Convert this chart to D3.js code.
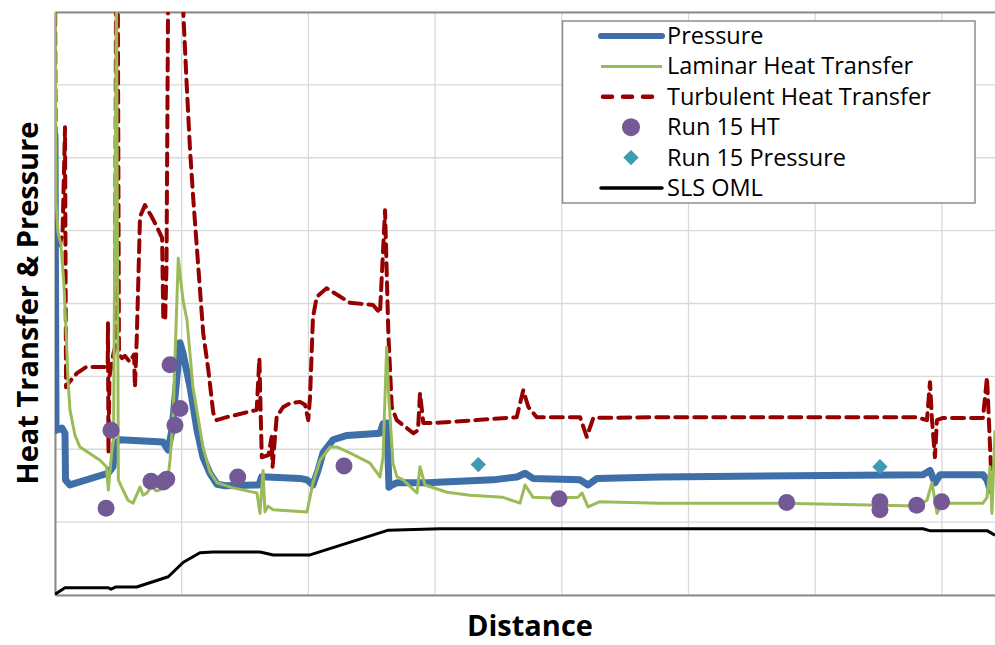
<!DOCTYPE html>
<html>
<head>
<meta charset="utf-8">
<title>Heat Transfer & Pressure</title>
<script src="https://d3js.org/d3.v7.min.js"></script>
<style>
  body { margin: 0; background: #fff; }
  svg { display: block; font-family: "Open Sans", Lato, sans-serif; }
  .grid line { stroke: #d9d9d9; stroke-width: 1.3; }
</style>
</head>
<body>
<svg id="chart" width="995" height="645"></svg>
<script>
// series, [distance, value]
const pressure = [[0,6.31],[0.08,2.26],[0.55,2.29],[0.79,2.22],[0.83,1.58],[1.18,1.51],[3.79,1.65],[4.18,1.67],[4.58,1.76],[4.74,2.09],[5.13,2.13],[8.52,2.10],[8.92,1.99],[9.23,2.26],[9.87,3.46],[10.10,3.32],[10.66,2.85],[11.21,2.26],[11.68,1.89],[12.23,1.67],[12.79,1.52],[13.42,1.50],[16.10,1.51],[16.30,1.62],[16.73,1.62],[19.34,1.60],[19.89,1.58],[20.36,1.51],[20.76,1.71],[21.15,1.95],[21.94,2.13],[23.05,2.19],[25.65,2.22],[25.89,2.35],[26.20,2.36],[26.36,1.48],[26.60,1.51],[26.99,1.54],[29.36,1.54],[34.57,1.58],[36.46,1.62],[37.10,1.67],[37.73,1.60],[41.44,1.58],[42.07,1.51],[42.78,1.60],[47.75,1.62],[68.51,1.65],[69.06,1.71],[69.45,1.54],[69.85,1.65],[73.24,1.65],[73.56,1.58],[73.80,1.44]];

const laminar = [[0,8.5],[0.08,5.42],[0.24,4.98],[0.47,4.80],[0.71,4.25],[0.87,3.64],[1.03,2.95],[1.18,2.54],[1.58,2.19],[1.97,2.03],[3.55,1.85],[4.06,1.76],[4.21,1.44],[4.47,1.95],[4.62,2.13],[4.85,8.5],[5.00,1.58],[5.26,1.48],[5.76,1.30],[6.16,1.26],[6.71,1.48],[6.95,1.37],[7.26,1.40],[7.50,1.47],[7.73,1.48],[7.97,1.43],[8.29,1.44],[8.76,1.58],[8.92,1.62],[9.08,1.85],[9.31,2.40],[9.73,4.62],[10.10,4.05],[10.42,3.77],[10.89,2.85],[11.68,2.03],[12.23,1.69],[12.79,1.54],[14.05,1.47],[15.94,1.40],[16.18,1.12],[16.42,1.71],[16.57,1.14],[16.81,1.22],[17.21,1.17],[19.89,1.14],[20.36,1.54],[20.92,1.85],[21.70,2.03],[22.26,2.03],[23.28,1.95],[24.86,1.81],[25.65,1.62],[25.89,1.89],[26.18,3.40],[26.36,2.67],[26.68,1.81],[26.99,1.62],[27.47,1.58],[28.57,1.40],[28.81,1.76],[29.20,1.51],[30.94,1.41],[32.75,1.37],[35.36,1.34],[36.70,1.26],[37.10,1.51],[37.73,1.34],[39.31,1.33],[41.28,1.34],[41.59,1.40],[42.07,1.21],[43.01,1.28],[47.75,1.26],[57.46,1.26],[68.03,1.22],[68.82,1.30],[69.22,1.54],[69.61,1.12],[70.01,1.26],[73.24,1.26],[73.56,1.34],[73.80,1.76],[73.95,1.12],[74.19,2.26]];

const turbulent = [[0,8.5],[0.08,5.0],[0.39,4.8],[0.6,5.0],[0.79,6.42],[0.87,2.85],[1.03,2.9],[1.71,3.04],[2.48,3.13],[3.55,3.13],[4.16,3.13],[4.18,3.73],[4.22,1.95],[4.3,3.0],[4.6,3.3],[4.74,3.4],[4.82,8.6],[4.95,8.6],[5.05,3.3],[5.29,3.25],[5.52,3.28],[5.9,3.2],[6.24,3.3],[6.31,2.85],[6.45,3.5],[6.71,5.19],[7.10,5.35],[7.6,5.2],[8.05,5.05],[8.45,4.9],[8.55,3.77],[8.7,3.8],[8.8,4.5],[8.94,8.6],[10.05,8.6],[10.13,7.98],[10.39,7.02],[10.66,6.10],[10.92,5.42],[11.31,4.50],[11.70,3.59],[12.10,3.09],[12.49,2.50],[12.76,2.40],[13.55,2.44],[15.92,2.54],[16.13,3.25],[16.32,1.89],[16.84,1.92],[17.10,2.17],[17.17,1.76],[17.50,2.45],[18.02,2.58],[18.55,2.63],[19.34,2.65],[19.73,2.61],[19.99,2.40],[20.13,2.72],[20.36,3.81],[20.66,4.09],[21.44,4.21],[23.28,4.01],[25.10,3.98],[25.65,3.87],[26.05,5.28],[26.31,3.59],[26.58,2.58],[26.97,2.40],[28.28,2.22],[28.65,2.26],[28.81,2.77],[29.07,2.36],[29.83,2.36],[33.28,2.40],[36.44,2.44],[36.96,2.81],[37.36,2.58],[38.02,2.44],[41.44,2.44],[41.97,2.17],[42.49,2.43],[47.75,2.44],[68.01,2.44],[68.82,2.40],[69.06,2.92],[69.22,2.40],[69.45,1.89],[69.61,2.40],[70.09,2.43],[73.24,2.43],[73.56,2.99],[73.95,1.44],[74.19,1.41]];

const run15HT = [[4.03,1.19],[4.42,2.26],[7.58,1.56],[8.56,1.55],[8.82,1.59],[9.08,3.16],[9.87,2.56],[9.47,2.33],[14.42,1.62],[22.81,1.77],[39.78,1.32],[57.75,1.27],[65.11,1.28],[65.11,1.17],[68.01,1.23],[69.98,1.28]];

const run15Pressure = [[33.41,1.79],[65.11,1.76]];

const slsOML = [[0,0.01],[0.79,0.10],[4.21,0.10],[4.42,0.08],[4.81,0.11],[6.45,0.11],[8.94,0.25],[10.13,0.45],[11.44,0.58],[12.49,0.59],[16.18,0.59],[17.23,0.55],[20.13,0.55],[26.31,0.89],[30.39,0.91],[68.5,0.91],[69.1,0.88],[73.6,0.88],[74.19,0.82]];

const legendNames = ["Pressure","Laminar Heat Transfer","Turbulent Heat Transfer","Run 15 HT","Run 15 Pressure","SLS OML"];

const xTicks = d3.range(0, 90, 10);
const yTicks = d3.range(0, 9, 1);

// layout
const plotLeft = 55, plotTop = 12, plotBottom = 595;
const svg = d3.select("#chart");
const x = d3.scaleLinear([0, 80], [plotLeft, plotLeft + 80 * 12.67]);
const y = d3.scaleLinear([0, 8], [plotBottom, plotTop]);

const colPressure = "#3f6fa9", colLam = "#9bbb59", colTurb = "#960000",
      colHT = "#735a97", colP = "#3f9bb2";

// grid
const grid = svg.append("g").attr("class", "grid");
grid.selectAll(".gx").data(xTicks).join("line")
  .attr("x1", d => x(d)).attr("x2", d => x(d)).attr("y1", plotTop).attr("y2", plotBottom);
grid.selectAll(".gy").data(yTicks).join("line")
  .attr("x1", plotLeft).attr("x2", 995).attr("y1", d => y(d)).attr("y2", d => y(d));

// axis lines (no tick labels)
svg.append("g").attr("transform", `translate(0,${plotBottom})`)
  .call(d3.axisBottom(x).tickValues([]).tickSizeOuter(0))
  .select(".domain").attr("stroke", "#8c8c8c").attr("stroke-width", 2);
svg.append("g").attr("transform", `translate(0,${plotTop})`)
  .call(d3.axisTop(x).tickValues([]).tickSizeOuter(0))
  .select(".domain").attr("stroke", "#8c8c8c").attr("stroke-width", 2);
svg.append("g").attr("transform", `translate(${plotLeft},0)`)
  .call(d3.axisLeft(y).tickValues([]).tickSizeOuter(0))
  .select(".domain").attr("stroke", "#8c8c8c").attr("stroke-width", 2);

svg.append("clipPath").attr("id", "plotClip")
  .append("rect").attr("x", plotLeft).attr("y", plotTop).attr("width", 995 - plotLeft).attr("height", plotBottom - plotTop);

const plot = svg.append("g").attr("clip-path", "url(#plotClip)");
const line = d3.line().x(d => x(d[0])).y(d => y(d[1]));

plot.append("path").datum(slsOML).attr("d", line)
  .attr("fill", "none").attr("stroke", "#000").attr("stroke-width", 3).attr("stroke-linejoin", "round");
plot.append("path").datum(turbulent).attr("d", line)
  .attr("fill", "none").attr("stroke", colTurb).attr("stroke-width", 4)
  .attr("stroke-dasharray", "12,7").attr("stroke-linecap", "round").attr("stroke-linejoin", "round");
plot.append("path").datum(pressure).attr("d", line)
  .attr("fill", "none").attr("stroke", colPressure).attr("stroke-width", 7)
  .attr("stroke-linejoin", "round").attr("stroke-linecap", "round");
plot.append("path").datum(laminar).attr("d", line)
  .attr("fill", "none").attr("stroke", colLam).attr("stroke-width", 3).attr("stroke-linejoin", "round");

plot.selectAll(".ht").data(run15HT).join("circle")
  .attr("cx", d => x(d[0])).attr("cy", d => y(d[1])).attr("r", 8.5).attr("fill", colHT);
const diamond = d3.symbol().type(d3.symbolDiamond2).size(150);
plot.selectAll(".pr").data(run15Pressure).join("path")
  .attr("d", diamond)
  .attr("transform", d => `translate(${x(d[0])},${y(d[1])})`).attr("fill", colP);

// legend
const lg = svg.append("g");
lg.append("rect").attr("x", 562.5).attr("y", 21).attr("width", 412.5).attr("height", 182)
  .attr("fill", "#fff").attr("stroke", "#8c8c8c").attr("stroke-width", 1.5);
const rowY = i => 36 + i * 30.4;
lg.append("line").attr("x1", 601).attr("x2", 662).attr("y1", rowY(0)).attr("y2", rowY(0))
  .attr("stroke", colPressure).attr("stroke-width", 6).attr("stroke-linecap", "round");
lg.append("line").attr("x1", 601).attr("x2", 662).attr("y1", rowY(1)).attr("y2", rowY(1))
  .attr("stroke", colLam).attr("stroke-width", 3);
lg.append("line").attr("x1", 603).attr("x2", 662).attr("y1", rowY(2)).attr("y2", rowY(2))
  .attr("stroke", colTurb).attr("stroke-width", 4.5).attr("stroke-dasharray", "9,11").attr("stroke-linecap", "round");
lg.append("circle").attr("cx", 631).attr("cy", rowY(3)).attr("r", 9).attr("fill", colHT);
lg.append("path").attr("d", diamond).attr("transform", `translate(631,${rowY(4)})`).attr("fill", colP);
lg.append("line").attr("x1", 601).attr("x2", 662).attr("y1", rowY(5)).attr("y2", rowY(5))
  .attr("stroke", "#000").attr("stroke-width", 3.5).attr("stroke-linecap", "round");
lg.selectAll("text").data(legendNames).join("text")
  .attr("x", 667).attr("y", (d, i) => rowY(i) + 8)
  .attr("font-size", 23.5).attr("fill", "#000").text(d => d);

// axis titles
svg.append("text").attr("x", 530).attr("y", 636).attr("text-anchor", "middle")
  .attr("font-size", 29).attr("font-weight", "bold").text("Distance");
svg.append("text").attr("transform", "translate(38,303) rotate(-90)").attr("text-anchor", "middle")
  .attr("font-size", 29).attr("font-weight", "bold").text("Heat Transfer & Pressure");
</script>
</body>
</html>
